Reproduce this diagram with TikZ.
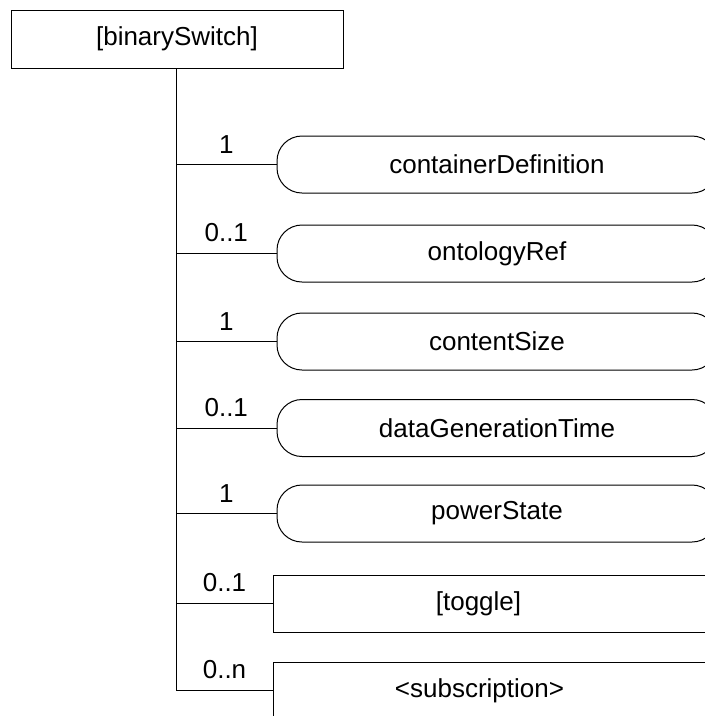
\documentclass[tikz,border=0pt]{standalone}
\usepackage{fontspec}
\setmainfont{Liberation Sans}
\begin{document}
\begin{tikzpicture}[x=1pt,y=-1pt,
  every node/.style={font=\fontsize{26}{30}\selectfont},
  topbox/.style={draw, line width=1pt, minimum width=332pt, minimum height=58pt, inner sep=0pt},
  roundbox/.style={draw, line width=1pt, rounded corners=25pt, minimum width=440pt, minimum height=57pt, inner sep=0pt},
  rectbox/.style={draw, line width=1pt, anchor=west, minimum height=57pt, inner sep=0pt},
  wire/.style={line width=1pt},
  mult/.style={above=11pt, inner sep=0pt}]
\useasboundingbox (0,0) rectangle (705,716);
\clip (0,0) rectangle (705,716);
\node[topbox] (top) at (177,39) {[binarySwitch]};
\node[roundbox] (c1) at (497,164.5) {containerDefinition};
\node[roundbox] (c2) at (497,253.5) {ontologyRef};
\node[roundbox] (c3) at (497,341.5) {contentSize};
\node[roundbox] (c4) at (497,428) {dataGenerationTime};
\node[roundbox] (c5) at (497,513.5) {powerState};
\node[rectbox] (c6) at (273,603.5) {\makebox[410pt][c]{[toggle]}\makebox[60pt]{}};
\node[rectbox] (c7) at (273,690.5) {\makebox[412pt][c]{\raisebox{2pt}{<subscription>}}\makebox[60pt]{}};
\draw[wire] ([xshift=-1pt]top.south) -- ([xshift=-1pt]top.south |- c7.west) -- node[mult]{0..n} (c7.west);
\draw[wire] ([xshift=-1pt]top.south |- c1.west) -- node[mult]{1} (c1.west);
\draw[wire] ([xshift=-1pt]top.south |- c2.west) -- node[mult]{0..1} (c2.west);
\draw[wire] ([xshift=-1pt]top.south |- c3.west) -- node[mult]{1} (c3.west);
\draw[wire] ([xshift=-1pt]top.south |- c4.west) -- node[mult]{0..1} (c4.west);
\draw[wire] ([xshift=-1pt]top.south |- c5.west) -- node[mult]{1} (c5.west);
\draw[wire] ([xshift=-1pt]top.south |- c6.west) -- node[mult]{0..1} (c6.west);
\end{tikzpicture}
\end{document}
